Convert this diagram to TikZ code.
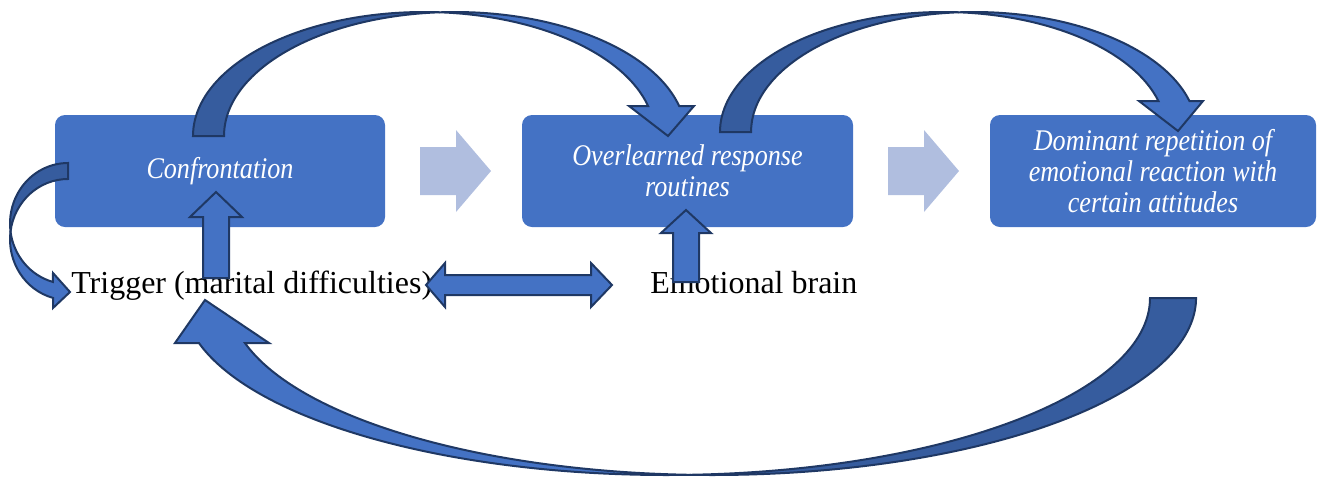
\documentclass[tikz,border=0pt]{standalone}
\usepackage{fontspec}
\setmainfont{Liberation Serif}
\newfontfamily\boxfont[FakeStretch=0.87]{Liberation Serif}
\usetikzlibrary{positioning}

\definecolor{boxblue}{HTML}{4472C4}
\definecolor{backblue}{HTML}{365C9E}
\definecolor{edgeblue}{HTML}{1F3864}
\definecolor{paleblue}{HTML}{B0BEDF}

\tikzset{
  stage/.style={fill=boxblue, rounded corners=7.5pt, minimum height=84pt,
    inner sep=0pt, text=white, align=center,
    font=\boxfont\itshape\fontsize{22.5}{23.5}\selectfont},
  plain/.style={inner sep=0pt, anchor=base west,
    font=\fontsize{24}{28}\selectfont},
  front/.style={fill=boxblue, draw=edgeblue, line width=1.5pt},
  back/.style={fill=backblue, draw=edgeblue, line width=1.5pt},
  chevron/.style={fill=paleblue}
}

\begin{document}
\begin{tikzpicture}[x=0.75pt, y=-0.75pt]
  \useasboundingbox (0,0) rectangle (1317,476);

  % stages
  \node[stage, minimum width=247.5pt] (conf) at (220,171) {Confrontation};
  \node[stage, minimum width=248.25pt] (over) at (687.5,171)
    {Overlearned response\\routines};
  \node[stage, minimum width=244.5pt] (domin) at (1153,171)
    {Dominant repetition of\\emotional reaction with\\certain attitudes};

  % light arrows between the stages
  \fill[chevron] (420,147) -- (456,147) -- (456,130) -- (491,171)
    -- (456,212) -- (456,195) -- (420,195) -- cycle;
  \fill[chevron] (888,147) -- (924,147) -- (924,130) -- (959,171)
    -- (924,212) -- (924,195) -- (888,195) -- cycle;

  % labels
  \node[plain] (trigger) at (71,293) {Trigger (marital difficulties)};
  \node[plain] (brain) at (650,293) {Emotional brain};

  % confrontation -> overlearned
  \draw[back] (193,136) arc[start angle=180, end angle=273.85, x radius=231, y radius=124]
    arc[start angle=266.15, end angle=180, x radius=231, y radius=124] -- cycle;
  \draw[front] (439.5,12.3) arc[start angle=266.15, end angle=346, x radius=231, y radius=124]
    -- (694,106) -- (668,136) -- (629,106) -- (648.1,106)
    arc[start angle=346, end angle=273.85, x radius=231, y radius=124] -- cycle;

  % overlearned -> dominant
  \draw[back] (720,132) arc[start angle=180, end angle=273.99, x radius=223, y radius=120]
    arc[start angle=266.01, end angle=180, x radius=223, y radius=120] -- cycle;
  \draw[front] (958.5,12.3) arc[start angle=266.01, end angle=345.03, x radius=223, y radius=120]
    -- (1203,101) -- (1178,131) -- (1139,101) -- (1158.4,101)
    arc[start angle=345.03, end angle=273.99, x radius=223, y radius=120] -- cycle;

  % dominant -> trigger
  \draw[back] (1150,298) arc[start angle=0, end angle=87.27, x radius=483.5, y radius=177]
    arc[start angle=92.73, end angle=0, x radius=483.5, y radius=177] -- cycle;
  \draw[front] (689.5,474.8) arc[start angle=92.73, end angle=165.27, x radius=483.5, y radius=177]
    -- (269,343) -- (205,300) -- (175,343) -- (198.9,343)
    arc[start angle=165.27, end angle=87.27, x radius=483.5, y radius=177] -- cycle;

  % confrontation -> trigger
  \draw[back] (68,163) arc[start angle=270, end angle=172.4, x radius=58, y radius=60.5]
    arc[start angle=187.6, end angle=270, x radius=58, y radius=60.5] -- cycle;
  \draw[front] (10.5,231.5) arc[start angle=172.4, end angle=105, x radius=58, y radius=60.5]
    -- (53,273) -- (70,292) -- (53,308) -- (53,297.9)
    arc[start angle=105, end angle=187.6, x radius=58, y radius=60.5] -- cycle;

  % trigger -> confrontation, brain -> overlearned
  \draw[front] (203,278) -- (203,217) -- (190,217) -- (216,192) -- (242,217)
    -- (229,217) -- (229,278) -- cycle;
  \draw[front] (673,282) -- (673,233) -- (661,233) -- (686,210) -- (711,233)
    -- (699,233) -- (699,282) -- cycle;

  % trigger <-> brain
  \draw[front] (426,285) -- (445,263) -- (445,275) -- (591,275) -- (591,263)
    -- (612,285) -- (591,307) -- (591,295) -- (445,295) -- (445,307) -- cycle;
\end{tikzpicture}
\end{document}
